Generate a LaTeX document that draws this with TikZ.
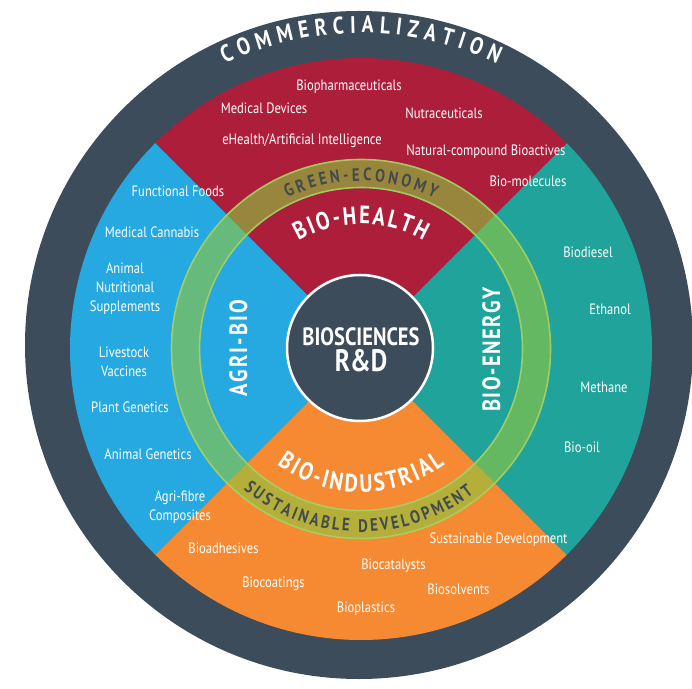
\documentclass[tikz,border=0pt]{standalone}
\usepackage{fontspec}
\usetikzlibrary{decorations.text}
\newfontfamily\condf{PT Sans}[FakeStretch=0.84]
\newfontfamily\condb{PT Sans}[FakeStretch=0.82]
\definecolor{navy}{HTML}{3C4C5B}
\definecolor{cred}{HTML}{AD1E3B}
\definecolor{cblue}{HTML}{25A9E0}
\definecolor{cteal}{HTML}{1FA39A}
\definecolor{corange}{HTML}{F68A33}
\definecolor{ringg}{HTML}{8DC63F}
\definecolor{ringtext}{HTML}{434B4C}
\newcommand\commfont{\condb\bfseries\fontsize{24}{26}\selectfont}
\newcommand\ringfont{\condb\bfseries\fontsize{18}{20}\selectfont}
\newcommand\quadfont{\condb\bfseries\fontsize{25}{28}\selectfont}
\tikzset{
  item/.style={text=white, font=\condf\fontsize{15}{18}\selectfont, inner sep=0pt, anchor=mid},
  itemml/.style={text=white, font=\condf\fontsize{15}{19}\selectfont, inner sep=0pt, align=center},
  arclabel/.style n args={3}{decorate, decoration={text along path, text={|#1|#2}, text color=#3, text align={fit to path}}},
}
\begin{document}
\begin{tikzpicture}[x=1pt,y=1pt]
\useasboundingbox (0,0) rectangle (692,688);
\coordinate (C) at (361,339);
% outer dark disk
\fill[navy] (359,343) circle[radius=334];
% quadrants
\fill[cred]    (C) -- ++(45:291)  arc[start angle=45,  end angle=135, radius=291] -- cycle;
\fill[cblue]   (C) -- ++(135:291) arc[start angle=135, end angle=225, radius=291] -- cycle;
\fill[corange] (C) -- ++(225:291) arc[start angle=225, end angle=315, radius=291] -- cycle;
\fill[cteal]   (C) -- ++(-45:291) arc[start angle=-45, end angle=45,  radius=291] -- cycle;
% green ring
\fill[ringg, fill opacity=0.62, even odd rule] (C) circle[radius=190] (C) circle[radius=161];
\draw[ringg!80!white, line width=1.6pt, opacity=0.9] (C) circle[radius=189.5];
\draw[ringg!80!white, line width=1.6pt, opacity=0.9] (C) circle[radius=161.5];
% centre
\node[circle, fill=navy, draw=white, line width=2.5pt, minimum size=146pt, inner sep=0pt] (core) at (360,340) {};
\node[text=white, font=\condb\bfseries\fontsize{25}{28}\selectfont, anchor=base, inner sep=0pt] (bio) at (361,342) {BIOSCIENCES};
\node[text=white, font=\condb\bfseries\fontsize{31}{34}\selectfont, anchor=base, inner sep=0pt] (rd) at (361,316) {R\&D};
% curved labels
\path[shift={(C)}, arclabel={\commfont}{COMMERCIALIZATION}{white}]
  (115.5:316) arc[start angle=115.5, end angle=64.5, radius=316];
\path[shift={(C)}, arclabel={\ringfont}{GREEN-ECONOMY}{ringtext}]
  (116:168) arc[start angle=116, end angle=64, radius=168];
\path[shift={(C)}, arclabel={\ringfont}{SUSTAINABLE DEVELOPMENT}{ringtext}]
  (230:183) arc[start angle=230, end angle=308, radius=183];
\path[shift={(C)}, arclabel={\quadfont}{BIO-HEALTH}{white}]
  (120:125) arc[start angle=120, end angle=60, radius=125];
\path[shift={(C)}, arclabel={\quadfont}{BIO-INDUSTRIAL}{white}]
  (234:143) arc[start angle=234, end angle=306, radius=143];
\coordinate (agriS) at (247,291);
\coordinate (agriE) at (247,388);
\coordinate (enS) at (500,276);
\coordinate (enE) at (500,401);
\path[arclabel={\quadfont}{AGRI-BIO}{white}] (agriS) -- (agriE);
\path[arclabel={\quadfont}{BIO-ENERGY}{white}] (enS) -- (enE);
% bio-health items
\node[item] (i1) at (349,600) {Biopharmaceuticals};
\node[item] (i2) at (264,577) {Medical Devices};
\node[item] (i3) at (444,572) {Nutraceuticals};
\node[item] (i4) at (302,546) {eHealth/Artificial Intelligence};
\node[item] (i5) at (486,535) {Natural-compound Bioactives};
\node[item] (i6) at (528,504) {Bio-molecules};
% agri-bio items
\node[item] (a1) at (178,493.5) {Functional Foods};
\node[item] (a2) at (152,453) {Medical Cannabis};
\node[itemml] (a3) at (125,399) {Animal\\Nutritional\\Supplements};
\node[itemml] (a4) at (124,326.5) {Livestock\\Vaccines};
\node[item] (a5) at (130,278) {Plant Genetics};
\node[item] (a6) at (148,231) {Animal Genetics};
\node[itemml] (a7) at (180,180.5) {Agri-fibre\\Composites};
% bio-energy items
\node[item] (e1) at (588,433) {Biodiesel};
\node[item] (e2) at (610,376) {Ethanol};
\node[item] (e3) at (604,298) {Methane};
\node[item] (e4) at (582,238) {Bio-oil};
% bio-industrial items
\node[item] (o1) at (223.5,137) {Bioadhesives};
\node[item] (o2) at (498.5,147) {Sustainable Development};
\node[item] (o3) at (393.5,121) {Biocatalysts};
\node[item] (o4) at (273.5,103) {Biocoatings};
\node[item] (o5) at (458.5,96) {Biosolvents};
\node[item] (o6) at (366,78) {Bioplastics};
\end{tikzpicture}
\end{document}
